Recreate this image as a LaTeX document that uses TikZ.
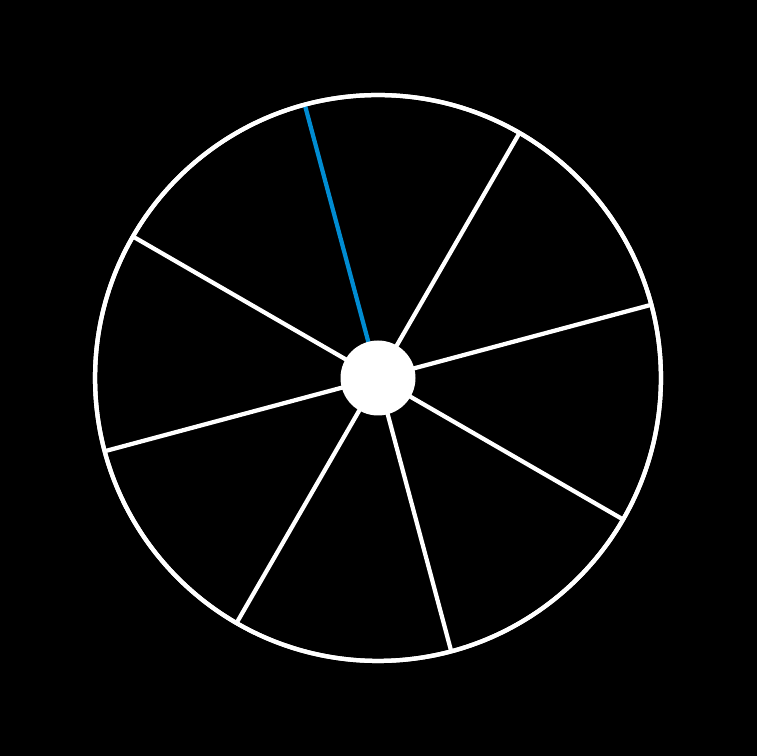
\documentclass[tikz,border=0pt]{standalone}
\begin{document}
\begin{tikzpicture}[x=0.02cm,y=0.02cm,
  spoke/.style={draw=white,line width=0.085cm},
  accent/.style={draw=accentblue,line width=0.085cm},
  rimstyle/.style={circle,draw=white,line width=0.085cm,minimum size=11.32cm,inner sep=0pt,outer sep=0pt},
  hubstyle/.style={circle,fill=white,minimum size=1.5cm,inner sep=0pt,outer sep=0pt}]
\definecolor{accentblue}{RGB}{0,140,210}
\useasboundingbox (0,0) rectangle (756,756);
\fill[black] (-10,-10) rectangle (766,766);
\coordinate (c) at (378,378);
\path (c) node[rimstyle] (rim) {};
\foreach \a in {15,60,150,195,240,285,330}{
  \draw[spoke] (c) -- (rim.\a);
}
\draw[accent] (c) -- (rim.105);
\path (c) node[rimstyle] (rimtop) {};
\node[hubstyle] (hub) at (c) {};
\end{tikzpicture}
\end{document}
